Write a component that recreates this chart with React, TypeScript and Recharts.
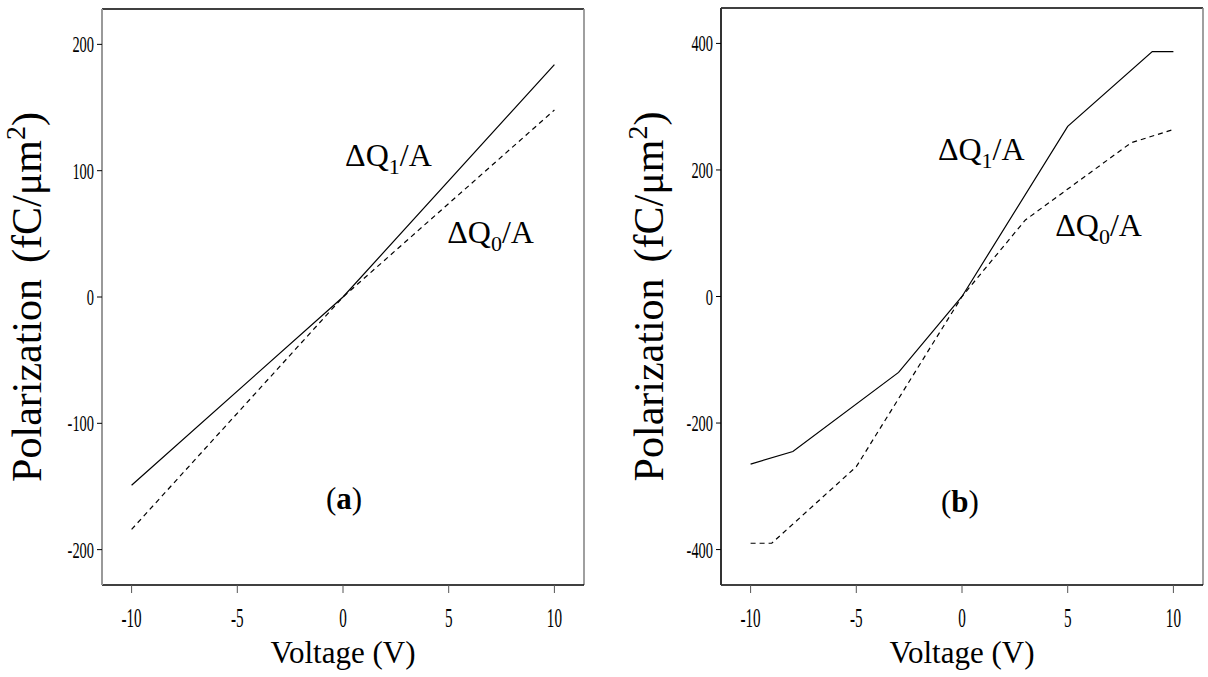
import React from 'react';
import { LineChart, Line, XAxis, YAxis, ReferenceLine, ReferenceDot } from 'recharts';

// panel (a)
const voltageA = [-10, 0, 10];
const q1A = [-149, 0, 184];
const q0A = [-184, 0, 148];

// panel (b)
const voltageB1 = [-10, -8, -3, 0, 5, 9, 10];
const q1B = [-265, -245, -120, 0, 269, 387, 387];
const voltageB0 = [-10, -9, -5, 0, 3, 8, 10];
const q0B = [-390, -390, -269, 0, 121, 243, 264];

const xTicks = [-10, -5, 0, 5, 10];
const yTicksA = [-200, -100, 0, 100, 200];
const yTicksB = [-400, -200, 0, 200, 400];

const SERIF = '"Liberation Serif", "Times New Roman", serif';

const toPoints = (xs: number[], ys: number[]) => xs.map((v, i) => ({ v, q: ys[i] }));

const XTick = (props: any) => {
  const { x, y, payload } = props;
  return (
    <text
      transform={`translate(${x},${y + 32}) scale(0.56,1)`}
      textAnchor="middle"
      fontFamily={SERIF}
      fontSize={27}
      fill="#000"
    >
      {payload.value}
    </text>
  );
};

const YTick = (props: any) => {
  const { x, y, payload } = props;
  return (
    <text
      transform={`translate(${x},${y + 8}) scale(0.6,1)`}
      textAnchor="end"
      fontFamily={SERIF}
      fontSize={24}
      fill="#000"
    >
      {payload.value}
    </text>
  );
};

const XLabel = ({ viewBox }: any) => (
  <text
    x={viewBox.x + viewBox.width / 2}
    y={663}
    textAnchor="middle"
    fontFamily={SERIF}
    fontSize={31}
    fill="#000"
  >
    Voltage (V)
  </text>
);

const makeYLabel = (bx: number) => ({ viewBox }: any) => {
  const cy = viewBox.y + viewBox.height / 2;
  return (
    <text
      transform={`translate(${bx},${cy}) rotate(-90)`}
      textAnchor="middle"
      fontFamily={SERIF}
      fontSize={42}
      fill="#000"
    >
      Polarization
      <tspan dx={16}>(fC/μm</tspan>
      <tspan dy={-16} fontSize={28}>2</tspan>
      <tspan dy={16}>)</tspan>
    </text>
  );
};

const QLabel = (sub: string) => ({ viewBox }: any) => (
  <text x={viewBox.x} y={viewBox.y} fontFamily={SERIF} fontSize={32} fill="#000">
    ΔQ
    <tspan dy={8} fontSize={22}>{sub}</tspan>
    <tspan dy={-8}>/A</tspan>
  </text>
);

const PanelLabel = (letter: string) => ({ viewBox }: any) => (
  <text x={viewBox.x} y={viewBox.y} textAnchor="middle" fontFamily={SERIF} fontSize={31} fill="#000">
    (<tspan fontWeight="bold">{letter}</tspan>)
  </text>
);

interface PanelProps {
  left: number;
  width: number;
  marginTop: number;
  marginRight: number;
  yWidth: number;
  yDomain: [number, number];
  yTicks: number[];
  solid: { v: number; q: number }[];
  dashed: { v: number; q: number }[];
  leftSpine: string;
  labelX: number;
  q1At: [number, number];
  q0At: [number, number];
  tagAt: [number, number];
  tag: string;
}

const Panel = (p: PanelProps) => (
  <div style={{ position: 'absolute', left: p.left, top: 0 }}>
    <LineChart
      width={p.width}
      height={677}
      margin={{ top: p.marginTop, right: p.marginRight, bottom: 0, left: 0 }}
    >
      <XAxis
        type="number"
        dataKey="v"
        domain={[-11.4, 11.4]}
        ticks={xTicks}
        tickSize={8}
        height={92}
        stroke="#000"
        axisLine={{ stroke: '#000', strokeWidth: 1.4 }}
        tickLine={{ stroke: '#555', strokeWidth: 1 }}
        tick={<XTick />}
        label={{ content: XLabel }}
        allowDataOverflow
      />
      <YAxis
        type="number"
        dataKey="q"
        domain={p.yDomain}
        ticks={p.yTicks}
        tickSize={5}
        tickMargin={3}
        width={p.yWidth}
        axisLine={{ stroke: p.leftSpine, strokeWidth: 2 }}
        tickLine={{ stroke: '#000', strokeWidth: 1 }}
        tick={<YTick />}
        label={{ content: makeYLabel(p.labelX) }}
        allowDataOverflow
      />
      <ReferenceLine y={p.yDomain[1]} stroke="#000" strokeWidth={1.4} ifOverflow="visible" />
      <ReferenceLine x={11.4} stroke="#888" strokeWidth={1.6} ifOverflow="visible" />
      <Line
        data={p.solid}
        dataKey="q"
        stroke="#000"
        strokeWidth={1.2}
        dot={false}
        isAnimationActive={false}
      />
      <Line
        data={p.dashed}
        dataKey="q"
        stroke="#000"
        strokeWidth={1.2}
        strokeDasharray="5 4"
        dot={false}
        isAnimationActive={false}
      />
      <ReferenceDot x={p.q1At[0]} y={p.q1At[1]} r={0} stroke="none" label={{ content: QLabel('1') }} />
      <ReferenceDot x={p.q0At[0]} y={p.q0At[1]} r={0} stroke="none" label={{ content: QLabel('0') }} />
      <ReferenceDot x={p.tagAt[0]} y={p.tagAt[1]} r={0} stroke="none" label={{ content: PanelLabel(p.tag) }} />
    </LineChart>
  </div>
);

export default function App() {
  return (
    <div style={{ position: 'absolute', left: 0, top: 0, width: 1208, height: 677, background: '#fff' }}>
      <Panel
        left={0}
        width={600}
        marginTop={9}
        marginRight={16}
        yWidth={102}
        yDomain={[-228, 228]}
        yTicks={yTicksA}
        solid={toPoints(voltageA, q1A)}
        dashed={toPoints(voltageA, q0A)}
        leftSpine="#999"
        labelX={41}
        q1At={[0.1, 104]}
        q0At={[4.93, 43]}
        tagAt={[0.05, -168]}
        tag="a"
      />
      <Panel
        left={604}
        width={604}
        marginTop={8}
        marginRight={5}
        yWidth={117}
        yDomain={[-456, 456]}
        yTicks={yTicksB}
        solid={toPoints(voltageB1, q1B)}
        dashed={toPoints(voltageB0, q0B)}
        leftSpine="#333"
        labelX={59}
        q1At={[-1.14, 216]}
        q0At={[4.41, 96]}
        tagAt={[-0.1, -341]}
        tag="b"
      />
    </div>
  );
}
